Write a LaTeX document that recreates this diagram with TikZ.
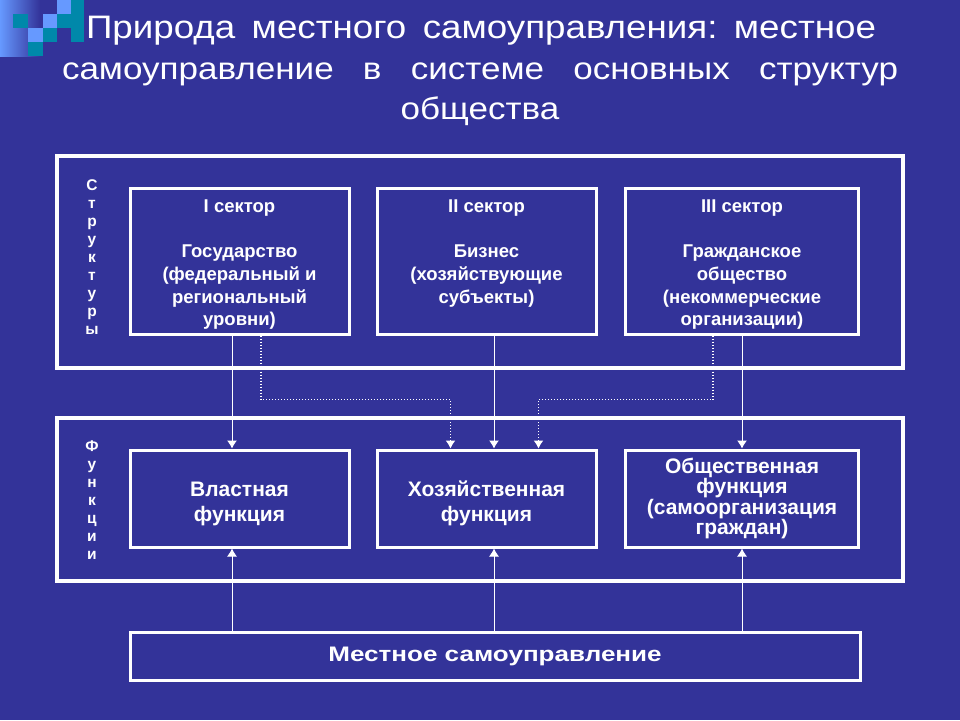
\documentclass[tikz,border=0pt]{standalone}
\usepackage{fontspec}
\setmainfont{Liberation Sans}
\newfontfamily\titlefont[FakeStretch=1.13]{Liberation Sans}
\newfontfamily\widefont[FakeStretch=1.24]{Liberation Sans}
\usepackage{tikz}
\usetikzlibrary{arrows.meta,positioning}
\definecolor{slide}{RGB}{51, 51, 153}
\definecolor{lightsq}{RGB}{102, 153, 255}
\definecolor{tealsq}{RGB}{0, 136, 170}
\newcommand{\funcstrut}{\rule{0pt}{25pt}}
\tikzstyle{frame} = [draw=white, line width=3.5pt, minimum width=846pt]
\tikzstyle{sector} = [draw=white, line width=3pt, minimum width=219pt, minimum height=146pt]
\tikzstyle{sectortext} = [text=white, align=center, font=\bfseries\fontsize{18.5}{22.6}\selectfont]
\tikzstyle{func} = [draw=white, line width=3pt, minimum width=219pt, minimum height=97pt, text=white, align=center, font=\bfseries\fontsize{21}{25}\selectfont]
\tikzstyle{sidetext} = [text=white, align=center, font=\bfseries\fontsize{15.5}{18.1}\selectfont]
\tikzstyle{titletext} = [text=white, anchor=base, inner sep=0pt, font=\titlefont\frenchspacing\fontsize{31}{38}\selectfont]
\tikzstyle{tedge}  = [draw=white, line width=1pt, >={Latex[length=8pt,width=10pt]}, ->]
\tikzstyle{dtedge} = [tedge, dotted, line width=1.3pt]

\begin{document}
\begin{tikzpicture}[x=1pt, y=-1pt]

% background =============================
\fill[slide] (0,0) rectangle (960,720);
\useasboundingbox (0,0) rectangle (960,720);
\shade[left color=lightsq, right color=slide] (0,0) rectangle (40,56);
\fill[tealsq] (13,14) rectangle (28,28);
\fill[lightsq] (28,28) rectangle (43,42);
\fill[tealsq] (28,42) rectangle (43,56);
\fill[lightsq] (43,14) rectangle (57,28);
\fill[tealsq] (43,28) rectangle (57,42);
\fill[lightsq] (57,0) rectangle (71,14);
\fill[tealsq] (57,14) rectangle (71,28);
\fill[tealsq] (71,0) rectangle (84,42);

% title =============================
\node[titletext, font=\titlefont\frenchspacing\fontsize{32.5}{38}\selectfont] (t1) at (481,38) {\makebox[790pt][s]{Природа местного самоуправления: местное}};
\node[titletext] (t2) at (480,79) {\makebox[836pt][s]{самоуправление в системе основных структур}};
\node[titletext] (t3) at (480,119) {общества};

% frames =============================
\node[frame, minimum height=212pt] (str) at (480,262) {};
\node[frame, minimum height=163pt] (fun) at (480,499.5) {};
\node[sidetext] (strlab) at (92,257) {С\\т\\р\\у\\к\\т\\у\\р\\ы};
\node[sidetext] (funlab) at (92,500) {Ф\\у\\н\\к\\ц\\и\\и};

% sectors =============================
\node[sector] (s1) at (239.5,261) {};
\node[sector] (s2) at (486.5,261) {};
\node[sector, minimum width=233pt] (s3) at (742,261) {};
\node[sectortext, below=10pt of s1.north] (s1t) {I сектор\\[22.6pt]Государство\\(федеральный и\\региональный\\уровни)};
\node[sectortext, below=10pt of s2.north] (s2t) {II сектор\\[22.6pt]Бизнес\\(хозяйствующие\\субъекты)};
\node[sectortext, below=10pt of s3.north] (s3t) {III сектор\\[22.6pt]Гражданское\\общество\\(некоммерческие\\организации)};

% functions =============================
\node[func] (f1) at (239.5,498.5) {\funcstrut Властная\\функция};
\node[func] (f2) at (486.5,498.5) {\funcstrut Хозяйственная\\функция};
\node[func, minimum width=233pt, font=\bfseries\fontsize{21}{18.7}\selectfont] (f3) at (742,498.5) {Общественная\\функция\\(самоорганизация\\граждан)};

\node[draw=white, line width=3pt, minimum width=730pt, minimum height=48pt, text=white, font=\widefont\bfseries\fontsize{21}{24}\selectfont] (ms) at (495,656) {Местное самоуправление};

% edges =============================
\path[tedge] ([xshift=-7.5pt]s1.south) -- ([xshift=-7.5pt]f1.north);
\path[tedge] ([xshift=7.5pt]s2.south) -- ([xshift=7.5pt]f2.north);
\path[tedge] (s3.south) -- (f3.north);
\path[dtedge] ([xshift=21.5pt]s1.south) -- ++(0,64) -| ([xshift=-36pt]f2.north);
\path[dtedge] ([xshift=-29pt]s3.south) -- ++(0,64) -| ([xshift=52pt]f2.north);
\path[tedge] ([xshift=-7.5pt]f1.south |- ms.north) -- ([xshift=-7.5pt]f1.south);
\path[tedge] ([xshift=7.5pt]f2.south |- ms.north) -- ([xshift=7.5pt]f2.south);
\path[tedge] (f3.south |- ms.north) -- (f3.south);

\end{tikzpicture}
\end{document}
